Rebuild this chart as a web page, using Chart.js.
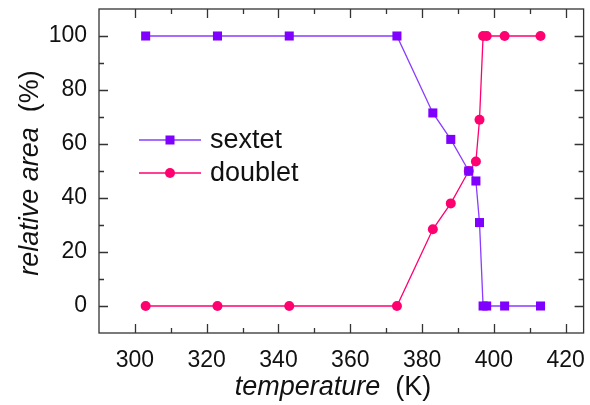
<!DOCTYPE html>
<html>
<head>
<meta charset="utf-8">
<script src="https://cdn.jsdelivr.net/npm/chart.js@4/dist/chart.umd.min.js"></script>
<style>
  html, body { margin: 0; padding: 0; background: #fff; }
  #wrap { width: 590px; height: 405px; }
</style>
</head>
<body>
<div id="wrap"><canvas id="chart" width="590" height="405"></canvas></div>
<script>
// data
const temperatures = [303, 323, 343, 373, 383, 388, 393, 395, 396, 397, 398, 403, 413];
const sextetArea = [100, 100, 100, 100, 71.5, 61.7, 50, 46.3, 30.9, 0, 0, 0, 0];
const doubletArea = [0, 0, 0, 0, 28.4, 38, 50, 53.5, 69, 100, 100, 100, 100];
const xTicks = [300, 320, 340, 360, 380, 400, 420];
const yTicks = [0, 20, 40, 60, 80, 100];

const SEXTET = '#7f00ff';
const SEXTET_LINE = '#8a3cff';
const DOUBLET = '#ff0070';
const AXIS = '#333';
const FONT = '"Liberation Sans", Arial, sans-serif';
const TITLE_SIZE = 27;

function toPoints(xs, ys) {
  return xs.map((x, i) => ({ x: x, y: ys[i] }));
}

// box, inward ticks, titles and the legend inside the plot
const framePlugin = {
  id: 'frame',
  afterDraw(chart) {
    const ctx = chart.ctx;
    const ca = chart.chartArea;
    const xs = chart.scales.x;
    const ys = chart.scales.y;
    ctx.save();
    ctx.strokeStyle = AXIS;
    ctx.lineWidth = 1.3;
    ctx.strokeRect(ca.left, ca.top, ca.right - ca.left, ca.bottom - ca.top);

    ctx.beginPath();
    for (let v = 300; v <= 420; v += 10) {
      const len = v % 20 === 0 ? 9 : 5;
      const px = Math.round(xs.getPixelForValue(v)) + 0.5;
      ctx.moveTo(px, ca.bottom); ctx.lineTo(px, ca.bottom - len);
      ctx.moveTo(px, ca.top); ctx.lineTo(px, ca.top + len);
    }
    for (let v = 0; v <= 100; v += 10) {
      const len = v % 20 === 0 ? 9 : 5;
      const py = Math.round(ys.getPixelForValue(v)) + 0.5;
      ctx.moveTo(ca.left, py); ctx.lineTo(ca.left + len, py);
      ctx.moveTo(ca.right, py); ctx.lineTo(ca.right - len, py);
    }
    ctx.stroke();

    const italic = 'italic ' + TITLE_SIZE + 'px ' + FONT;
    const plain = TITLE_SIZE + 'px ' + FONT;

    // x title
    ctx.fillStyle = '#111';
    ctx.textBaseline = 'alphabetic';
    ctx.textAlign = 'left';
    const a = 'temperature';
    const b = '  (K)';
    ctx.font = italic;
    const wa = ctx.measureText(a).width;
    ctx.font = plain;
    const wb = ctx.measureText(b).width;
    const sx = 333 - (wa + wb) / 2;
    ctx.font = italic;
    ctx.fillText(a, sx, 395);
    ctx.font = plain;
    ctx.fillText(b, sx + wa, 395);

    // y title
    ctx.save();
    ctx.translate(38, 173);
    ctx.rotate(-Math.PI / 2);
    const c = 'relative area';
    const d = '  (%)';
    ctx.font = italic;
    const wc = ctx.measureText(c).width;
    ctx.font = plain;
    const wd = ctx.measureText(d).width;
    const sy = -(wc + wd) / 2;
    ctx.font = italic;
    ctx.fillText(c, sy, 0);
    ctx.font = plain;
    ctx.fillText(d, sy + wc, 0);
    ctx.restore();

    // legend
    const rows = [
      { label: 'sextet', line: SEXTET_LINE, fill: SEXTET, style: 'rect', y: 140 },
      { label: 'doublet', line: DOUBLET, fill: DOUBLET, style: 'circle', y: 173 }
    ];
    rows.forEach(r => {
      ctx.strokeStyle = r.line;
      ctx.lineWidth = 1.3;
      ctx.beginPath();
      ctx.moveTo(139, r.y); ctx.lineTo(201, r.y);
      ctx.stroke();
      ctx.fillStyle = r.fill;
      if (r.style === 'rect') {
        ctx.fillRect(170 - 4.5, r.y - 4.5, 9, 9);
      } else {
        ctx.beginPath();
        ctx.arc(170, r.y, 5, 0, Math.PI * 2);
        ctx.fill();
      }
      ctx.fillStyle = '#111';
      ctx.font = plain;
      ctx.textAlign = 'left';
      ctx.textBaseline = 'middle';
      ctx.fillText(r.label, 210, r.y + 1);
    });
    ctx.restore();
  }
};

new Chart(document.getElementById('chart'), {
  type: 'scatter',
  data: {
    datasets: [
      // first dataset is drawn on top: squares sit over the circles
      {
        label: 'sextet',
        data: toPoints(temperatures, sextetArea),
        showLine: true,
        borderColor: SEXTET_LINE,
        backgroundColor: SEXTET,
        borderWidth: 1.3,
        pointStyle: 'rect',
        pointRadius: 6.4,
        pointBorderWidth: 0,
        pointHoverRadius: 6.4
      },
      {
        label: 'doublet',
        data: toPoints(temperatures, doubletArea),
        showLine: true,
        borderColor: DOUBLET,
        backgroundColor: DOUBLET,
        borderWidth: 1.3,
        pointStyle: 'circle',
        pointRadius: 5,
        pointBorderWidth: 0,
        pointHoverRadius: 5
      }
    ]
  },
  options: {
    responsive: false,
    animation: false,
    clip: false,
    layout: { padding: { top: 9, right: 3, left: 0, bottom: 0 } },
    scales: {
      x: {
        type: 'linear',
        min: 290,
        max: 425,
        afterBuildTicks: s => { s.ticks = xTicks.map(v => ({ value: v })); },
        afterFit: s => { s.height = 72; s.paddingLeft = 0; s.paddingRight = 0; },
        grid: { display: false, drawTicks: false },
        border: { display: false },
        ticks: { color: '#111', font: { family: FONT, size: 23 }, padding: 14, maxRotation: 0 }
      },
      y: {
        type: 'linear',
        min: -10,
        max: 110,
        afterBuildTicks: s => { s.ticks = yTicks.map(v => ({ value: v })); },
        afterFit: s => { s.width = 99; s.paddingTop = 0; s.paddingBottom = 0; },
        grid: { display: false, drawTicks: false },
        border: { display: false },
        ticks: { color: '#111', font: { family: FONT, size: 23 }, padding: 12 }
      }
    },
    plugins: {
      legend: { display: false },
      tooltip: { enabled: false }
    }
  },
  plugins: [framePlugin]
});
</script>
</body>
</html>
